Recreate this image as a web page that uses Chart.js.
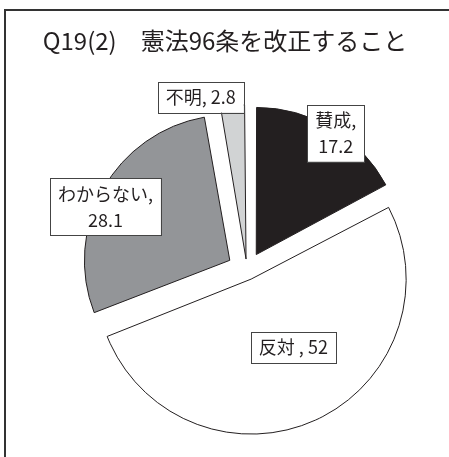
<!DOCTYPE html>
<html>
<head>
<meta charset="utf-8">
<script src="https://cdn.jsdelivr.net/npm/chart.js@4"></script>
<style>
  html, body { margin: 0; padding: 0; background: #fff; }
  #wrap { width: 449px; height: 457px; }
</style>
</head>
<body>
<div id="wrap"><canvas id="q19"></canvas></div>
<script>
const title = 'Q19(2)\u3000憲法96条を改正すること';
const categories = ['賛成', '反対', 'わからない', '不明'];
const values = [17.2, 52, 28.1, 2.8];
// how each label reads in the picture
const separators = [',', ' ,', ',', ','];
const twoLines = [true, false, true, false];

const colors = ['#231f20', '#ffffff', '#939598', '#d1d3d4'];
// Chart.js moves an arc by offset/4 (more for thin arcs), so these give ~20px for each
const explode = [72, 40, 79, 44];

// label placement relative to the pie centre: distance and angle (deg, clockwise from top)
const labelDist = [163, 90, 155, 179];
const labelAngle = [33, 149, 294, 345];

function labelLines(i) {
  const head = categories[i] + separators[i];
  return twoLines[i] ? [head, String(values[i])] : [head + ' ' + values[i]];
}

const framePlugin = {
  id: 'frame',
  beforeDraw(chart) {
    const ctx = chart.ctx;
    ctx.save();
    ctx.fillStyle = '#fff';
    ctx.fillRect(0, 0, chart.width, chart.height);
    ctx.strokeStyle = '#333';
    ctx.lineWidth = 2;
    ctx.beginPath();
    ctx.moveTo(chart.width, 10);
    ctx.lineTo(5, 10);
    ctx.lineTo(5, chart.height);
    ctx.stroke();
    ctx.fillStyle = '#231f20';
    ctx.font = '24px "Noto Sans CJK JP", "Noto Sans", sans-serif';
    ctx.textAlign = 'center';
    ctx.textBaseline = 'middle';
    ctx.fillText(title, 225, 41);
    ctx.restore();
  }
};

const boxLabels = {
  id: 'boxLabels',
  afterDatasetsDraw(chart) {
    const ctx = chart.ctx;
    const arc = chart.getDatasetMeta(0).data[0];
    const cx = arc.x, cy = arc.y;
    ctx.save();
    ctx.font = '18px "Noto Sans CJK JP", "Noto Sans", sans-serif';
    ctx.textAlign = 'center';
    ctx.textBaseline = 'middle';
    categories.forEach((c, i) => {
      const a = labelAngle[i] * Math.PI / 180;
      const x = cx + labelDist[i] * Math.sin(a);
      const y = cy - labelDist[i] * Math.cos(a);
      const lines = labelLines(i);
      const lineH = 26;
      const w = Math.max(...lines.map(l => ctx.measureText(l).width)) + 16;
      const h = lines.length * lineH + 5;
      ctx.fillStyle = '#fff';
      ctx.fillRect(x - w / 2, y - h / 2, w, h);
      ctx.strokeStyle = '#444';
      ctx.lineWidth = 1;
      ctx.strokeRect(Math.round(x - w / 2) + 0.5, Math.round(y - h / 2) + 0.5, Math.round(w), Math.round(h));
      ctx.fillStyle = '#231f20';
      lines.forEach((l, k) => {
        ctx.fillText(l, x, y + (k - (lines.length - 1) / 2) * lineH);
      });
    });
    ctx.restore();
  }
};

new Chart(document.getElementById('q19'), {
  type: 'pie',
  data: {
    labels: categories,
    datasets: [{
      data: values,
      backgroundColor: colors,
      borderColor: '#231f20',
      borderWidth: 1,
      offset: explode,
      radius: 145
    }]
  },
  options: {
    responsive: true,
    maintainAspectRatio: false,
    animation: false,
    layout: { padding: { left: 45, right: 0, top: 83, bottom: 0 } },
    plugins: {
      legend: { display: false },
      tooltip: { enabled: false }
    }
  },
  plugins: [framePlugin, boxLabels]
});
</script>
</body>
</html>
